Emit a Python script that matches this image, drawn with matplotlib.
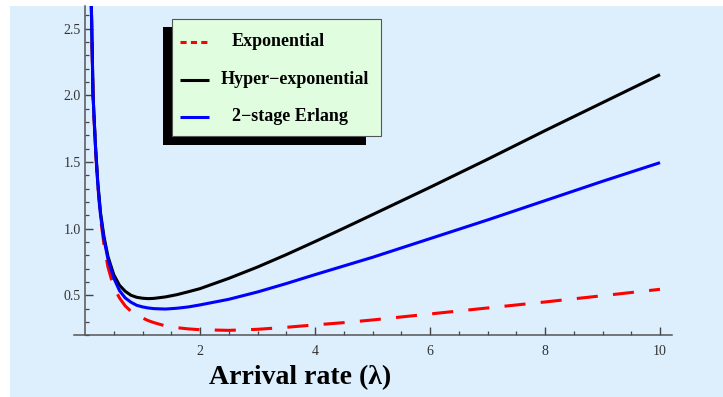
import matplotlib.pyplot as plt
from matplotlib.patches import Rectangle
from matplotlib.lines import Line2D
from matplotlib.ticker import MultipleLocator, FixedLocator

# arrival rate values and the cost curves for each service-time distribution
lam = [0.11, 0.14, 0.18, 0.22, 0.27, 0.33, 0.4, 0.5, 0.6, 0.7, 0.8, 0.9, 1.0,
       1.1, 1.2, 1.4, 1.6, 1.8, 2.0, 2.5, 3.0, 3.5, 4.0, 4.5, 5.0, 6.0, 7.0,
       8.0, 9.0, 10.0]
expo = [2.67, 1.99, 1.62, 1.34, 1.08, 0.88, 0.71, 0.56, 0.48, 0.42, 0.38, 0.35,
        0.33, 0.31, 0.295, 0.27, 0.257, 0.248, 0.242, 0.237, 0.245, 0.26,
        0.278, 0.295, 0.315, 0.36, 0.405, 0.45, 0.497, 0.545]
hyper = [2.68, 2.0, 1.64, 1.36, 1.12, 0.94, 0.79, 0.655, 0.575, 0.53, 0.50,
         0.485, 0.478, 0.475, 0.477, 0.488, 0.505, 0.527, 0.55, 0.627, 0.712,
         0.805, 0.903, 1.003, 1.105, 1.31, 1.52, 1.735, 1.945, 2.155]
erlang = [2.68, 2.0, 1.63, 1.35, 1.10, 0.92, 0.77, 0.63, 0.535, 0.48, 0.448,
          0.425, 0.413, 0.405, 0.400, 0.397, 0.403, 0.413, 0.428, 0.47, 0.525,
          0.588, 0.655, 0.72, 0.785, 0.925, 1.065, 1.21, 1.355, 1.495]

labels = ["Exponential", "Hyper\u2212exponential", "2\u2212stage Erlang"]
x_ticks = [2, 4, 6, 8, 10]
y_ticks = [0.5, 1.0, 1.5, 2.0, 2.5]

W, H = 723, 397
bg = "#DDEEFD"
serif = "Liberation Serif"


def fx(px):
    return px / W


def fy(py):
    return 1 - py / H


fig = plt.figure(figsize=(W / 100, H / 100), dpi=100)
fig.patch.set_facecolor("white")
fig.patches.append(Rectangle((fx(10), 0), 1 - fx(10), fy(6), transform=fig.transFigure,
                             facecolor=bg, edgecolor="none", zorder=-5))

ax = fig.add_axes([fx(73.5), fy(335.3), (671.5 - 73.5) / W, (335.3 - 6) / H])
ax.set_facecolor("none")
ax.set_zorder(1)

styles = [dict(color="red", dashes=(6.9, 5.0)),
          dict(color="black"),
          dict(color="blue")]
for ys, st in zip([expo, hyper, erlang], styles):
    ax.plot(lam, ys, lw=2.2, solid_capstyle="butt", solid_joinstyle="round", **st)

ax.set_xlim(-0.2, 10.2)
ax.set_ylim(0.2, 2.67)

for s in ["top", "right"]:
    ax.spines[s].set_visible(False)
ax.spines["left"].set_position(("data", 0))
for s in ["left", "bottom"]:
    ax.spines[s].set_color("#555555")
    ax.spines[s].set_linewidth(1.1)

ax.xaxis.set_major_locator(FixedLocator(x_ticks))
ax.xaxis.set_minor_locator(FixedLocator([0.5 * i for i in range(1, 21) if (0.5 * i) not in x_ticks]))
ax.yaxis.set_major_locator(FixedLocator(y_ticks))
ax.yaxis.set_minor_locator(MultipleLocator(0.1))
ax.set_xticklabels([str(v) for v in x_ticks])
ax.set_yticklabels([f"{v:.1f}" for v in y_ticks])
ax.tick_params(which="major", direction="in", length=5.5, width=1.0, color="#444444",
               labelsize=10, labelcolor="#333333")
ax.tick_params(which="minor", direction="in", length=3, width=0.9, color="#444444")
ax.tick_params(axis="x", pad=7)
ax.tick_params(axis="y", pad=3)
for t in ax.get_xticklabels() + ax.get_yticklabels():
    t.set_family(serif)

fig.text(fx(300), fy(378), "Arrival rate (\u03bb)", ha="center", va="center",
         fontsize=20, fontweight="bold", family=serif)

# legend box with a drop shadow to the lower left
fig.patches.append(Rectangle((fx(163), fy(145)), fx(366) - fx(163), fy(27) - fy(145),
                             transform=fig.transFigure, facecolor="black",
                             edgecolor="none", zorder=5))
fig.patches.append(Rectangle((fx(172), fy(136)), fx(381) - fx(172), fy(19) - fy(136),
                             transform=fig.transFigure, facecolor="#E0FDE0",
                             edgecolor="#555555", lw=0.8, zorder=6))
rows = [41.7, 80, 116.7]
text_x = [231.7, 220.7, 231.7]
key_styles = [dict(color="red", dashes=(2.0, 1.4)),
              dict(color="black"),
              dict(color="blue")]
for py, tx, lab, st in zip(rows, text_x, labels, key_styles):
    fig.lines.append(Line2D([fx(180), fx(209)], [fy(py), fy(py)], transform=fig.transFigure,
                            lw=2.2, zorder=7, solid_capstyle="butt", dash_capstyle="butt", **st))
    fig.text(fx(tx), fy(py), lab, ha="left", va="center", fontsize=13,
             fontweight="bold", family=serif, zorder=8)

fig.savefig("out.png", dpi=100)
